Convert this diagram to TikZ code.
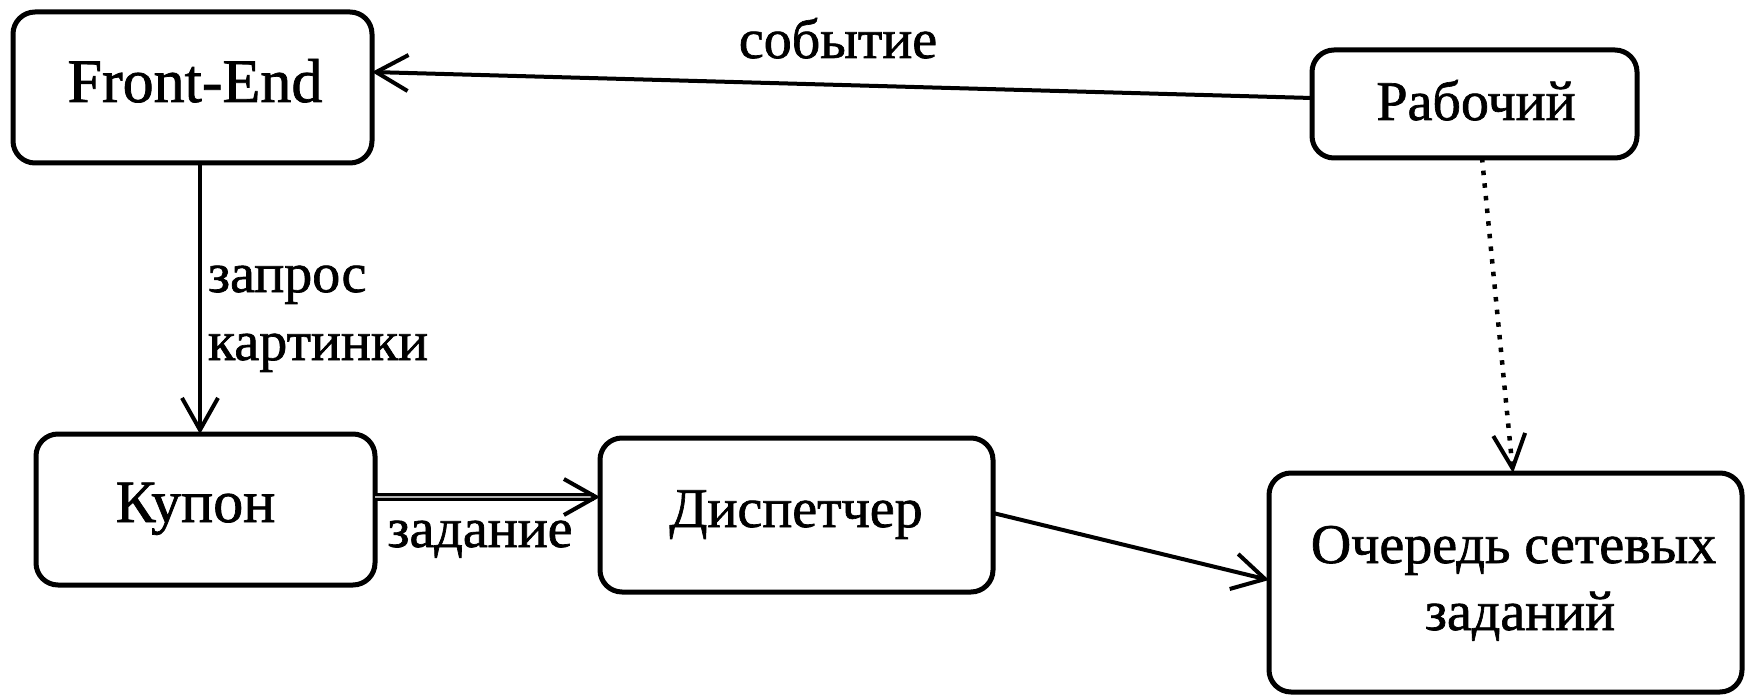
\documentclass[tikz,border=0pt]{standalone}
\usepackage{fontspec}
\setmainfont{Liberation Serif}[FakeBold=1.2]
\usetikzlibrary{arrows.meta,calc}
\begin{document}
\begin{tikzpicture}[x=1pt,y=-1pt,
  box/.style={draw, line width=5, rounded corners=22, inner sep=0, outer sep=0},
  txt/.style={inner sep=0, outer sep=0, anchor=base, font=\fontsize{56}{67}\selectfont},
  arr/.style={line width=4, -{Straight Barb[length=32,width=36,line width=4]}},
  dblarr/.style={line width=2.4, double=gray!60, double distance=2.4, -{Straight Barb[length=32,width=36,line width=4]}},
  dotarr/.style={line width=4.5, dash pattern=on 4.5 off 8.2, -{Straight Barb[length=34,width=32,line width=4]}},
]
\useasboundingbox (0,0) rectangle (1750,695);
% boxes
\node[box, minimum width=359, minimum height=151] (fe) at (192.5,87.5) {};
\node[box, minimum width=325, minimum height=108] (rab) at (1474.5,104) {};
\node[box, minimum width=339, minimum height=151] (kup) at (205.5,509.5) {};
\node[box, minimum width=393, minimum height=154] (disp) at (796.5,515) {};
\node[box, minimum width=473, minimum height=219] (och) at (1505.5,582.5) {};
% box texts
\node[txt, font=\fontsize{62}{70}\selectfont] (fet) at (195,102) {Front-End};
\node[txt] (rabt) at (1476,120) {Рабочий};
\node[txt, font=\fontsize{60}{70}\selectfont] (kupt) at (195.5,522) {Купон};
\node[txt] (dispt) at (796,527) {Диспетчер};
\node[txt] (ocht1) at (1513.5,563) {Очередь сетевых};
\node[txt] (ocht2) at (1520,630) {заданий};
% connectors
\draw[arr] ($(rab.west)+(0,-6)$) -- ($(fe.east)+(0,-15.5)$);
\draw[arr] ($(fe.south)+(7.5,0)$) -- ($(kup.north)+(-5.5,0)$);
\draw[dblarr] ($(kup.east)+(0,-12.5)$) -- ($(disp.west)+(0,-18)$);
\draw[arr] ($(disp.east)+(0,-2)$) -- ($(och.west)+(0,-2.5)$);
\draw[dotarr] ($(rab.south)+(7.5,0)$) -- ($(och.north)+(7.5,0)$);
% labels
\node[txt] (lsob) at (838,58) {событие};
\node[txt, anchor=base west] (lzap1) at (208,292) {запрос};
\node[txt, anchor=base west] (lzap2) at (208,360) {картинки};
\node[txt] (lzad) at (480,547) {задание};
\end{tikzpicture}
\end{document}
